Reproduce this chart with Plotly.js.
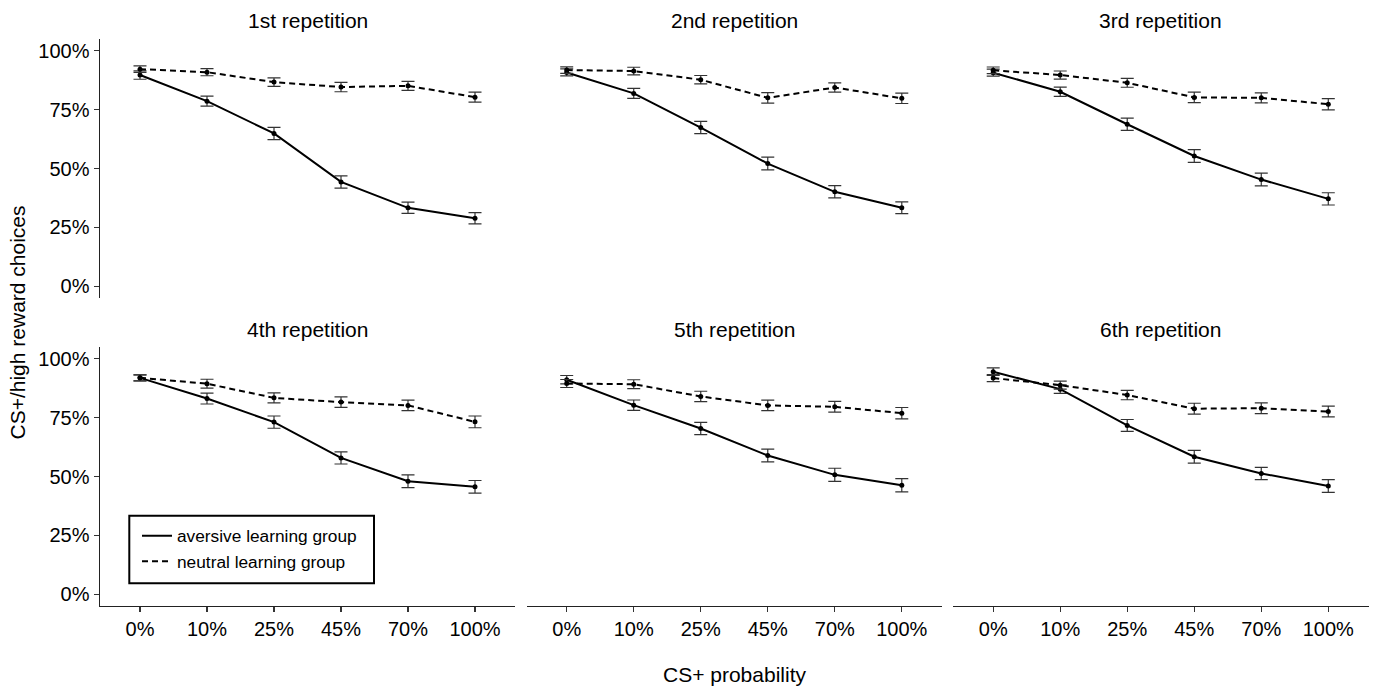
<!DOCTYPE html>
<html>
<head>
<meta charset="utf-8">
<script src="https://cdn.plot.ly/plotly-3.0.1.min.js"></script>
<style>html,body{margin:0;padding:0;background:#fff;}#chart{width:1375px;height:688px;}</style>
</head>
<body>
<div id="chart"></div>
<script>
// ---- data (percent of CS+/high reward choices) ----
const categories = ['0%', '10%', '25%', '45%', '70%', '100%'];
const panelTitles = ['1st repetition', '2nd repetition', '3rd repetition', '4th repetition', '5th repetition', '6th repetition'];
const yTickVals = [0, 25, 50, 75, 100];
const yTickText = ['0%', '25%', '50%', '75%', '100%'];

const aversiveRep1 = [89.7, 78.6, 64.9, 44.3, 33.3, 28.9];
const aversiveRep2 = [90.8, 81.9, 67.4, 52.1, 40.1, 33.3];
const aversiveRep3 = [90.7, 82.6, 68.8, 55.3, 45.3, 37.1];
const aversiveRep4 = [91.9, 83.1, 73.1, 57.9, 48.0, 45.6];
const aversiveRep5 = [91.1, 80.3, 70.4, 58.9, 50.7, 46.3];
const aversiveRep6 = [94.5, 87.1, 71.7, 58.4, 51.3, 46.0];

const aversiveSeRep1 = [1.8, 2.1, 2.6, 2.6, 2.4, 2.4];
const aversiveSeRep2 = [1.5, 2.1, 2.6, 2.7, 2.6, 2.5];
const aversiveSeRep3 = [1.5, 2.0, 2.6, 2.7, 2.7, 2.6];
const aversiveSeRep4 = [1.3, 2.3, 2.6, 2.6, 2.7, 2.7];
const aversiveSeRep5 = [1.8, 2.2, 2.6, 2.7, 2.8, 2.8];
const aversiveSeRep6 = [1.6, 1.8, 2.5, 2.7, 2.6, 2.7];

const neutralRep1 = [92.2, 90.9, 86.7, 84.6, 85.1, 80.3];
const neutralRep2 = [91.8, 91.4, 87.7, 80.0, 84.4, 79.8];
const neutralRep3 = [91.7, 89.7, 86.4, 80.2, 80.0, 77.3];
const neutralRep4 = [91.9, 89.4, 83.4, 81.6, 80.2, 73.2];
const neutralRep5 = [89.5, 89.2, 84.0, 80.2, 79.6, 76.9];
const neutralRep6 = [91.8, 88.8, 84.6, 78.8, 79.0, 77.6];

const neutralSeRep1 = [1.4, 1.5, 1.8, 2.0, 1.9, 2.1];
const neutralSeRep2 = [1.4, 1.6, 1.8, 2.2, 2.0, 2.2];
const neutralSeRep3 = [1.4, 1.7, 1.9, 2.2, 2.1, 2.4];
const neutralSeRep4 = [1.3, 1.9, 2.1, 2.2, 2.2, 2.5];
const neutralSeRep5 = [1.7, 1.9, 2.2, 2.2, 2.3, 2.4];
const neutralSeRep6 = [1.5, 1.7, 2.0, 2.3, 2.3, 2.3];

const groupNames = ['aversive learning group', 'neutral learning group'];

// ---- build ----
const aversive = [aversiveRep1, aversiveRep2, aversiveRep3, aversiveRep4, aversiveRep5, aversiveRep6];
const aversiveSe = [aversiveSeRep1, aversiveSeRep2, aversiveSeRep3, aversiveSeRep4, aversiveSeRep5, aversiveSeRep6];
const neutral = [neutralRep1, neutralRep2, neutralRep3, neutralRep4, neutralRep5, neutralRep6];
const neutralSe = [neutralSeRep1, neutralSeRep2, neutralSeRep3, neutralSeRep4, neutralSeRep5, neutralSeRep6];

const W = 1375, H = 688;
const colPx = [[99.8, 515.2], [526.5, 942.0], [953.0, 1368.5]];
const rowPx = [[39, 298], [347, 606]];
const FONT = 'Liberation Sans, Arial, sans-serif';

const traces = [];
const layout = {
  width: W, height: H,
  margin: {l: 0, r: 0, t: 0, b: 0},
  paper_bgcolor: '#fff', plot_bgcolor: '#fff',
  font: {family: FONT, size: 20, color: '#000'},
  showlegend: true,
  legend: {
    x: 137 / W, y: 1 - 518 / H, xanchor: 'left', yanchor: 'top',
    bgcolor: 'rgba(0,0,0,0)', borderwidth: 0,
    font: {family: FONT, size: 17.3, color: '#000'},
    itemwidth: 30, tracegroupgap: 0
  },
  annotations: [],
  shapes: []
};

const dashStyle = '6px,4px';

for (let p = 0; p < 6; p++) {
  const r = Math.floor(p / 3), c = p % 3;
  const sfx = p === 0 ? '' : String(p + 1);
  const xa = 'x' + sfx, ya = 'y' + sfx;
  const series = [
    {y: aversive[p], e: aversiveSe[p], dash: 'solid', name: groupNames[0]},
    {y: neutral[p], e: neutralSe[p], dash: dashStyle, name: groupNames[1]}
  ];
  series.forEach(s => {
    traces.push({
      type: 'scatter', mode: 'lines+markers',
      x: categories, y: s.y,
      xaxis: xa, yaxis: ya,
      name: s.name, showlegend: false,
      line: {color: '#000', width: 2, dash: s.dash},
      marker: {color: '#000', size: 5},
      error_y: {type: 'data', array: s.e, visible: true, color: '#333', thickness: 1.2, width: 6.5},
      hoverinfo: 'x+y'
    });
  });
  const xKey = 'xaxis' + sfx, yKey = 'yaxis' + sfx;
  layout[xKey] = {
    domain: [colPx[c][0] / W, colPx[c][1] / W],
    anchor: ya, type: 'category',
    categoryorder: 'array', categoryarray: categories,
    range: [-0.6, 5.6],
    showgrid: false, zeroline: false,
    showline: r === 1, linecolor: '#222', linewidth: 1.3,
    ticks: r === 1 ? 'outside' : '', ticklen: 5, tickwidth: 1.2, tickcolor: '#333',
    showticklabels: r === 1,
    tickfont: {family: FONT, size: 20, color: '#000'},
    fixedrange: true
  };
  layout[yKey] = {
    domain: [1 - rowPx[r][1] / H, 1 - rowPx[r][0] / H],
    anchor: xa,
    range: [-5, 105],
    tickmode: 'array', tickvals: yTickVals, ticktext: yTickText,
    showgrid: false, zeroline: false,
    showline: c === 0, linecolor: '#222', linewidth: 1.3,
    ticks: c === 0 ? 'outside' : '', ticklen: 5, tickwidth: 1.2, tickcolor: '#333',
    showticklabels: c === 0,
    tickfont: {family: FONT, size: 20, color: '#000'},
    fixedrange: true
  };
  layout.annotations.push({
    text: panelTitles[p], xref: 'paper', yref: 'paper',
    x: (colPx[c][0] + colPx[c][1]) / 2 / W,
    y: 1 - (r === 0 ? 21 : 329) / H,
    xanchor: 'center', yanchor: 'middle', showarrow: false,
    font: {family: FONT, size: 21, color: '#000'}
  });
}

// legend entries (line style keys only)
traces.push({type: 'scatter', mode: 'lines', x: [null], y: [null], name: groupNames[0],
  line: {color: '#000', width: 2, dash: 'solid'}, showlegend: true, hoverinfo: 'skip'});
traces.push({type: 'scatter', mode: 'lines', x: [null], y: [null], name: groupNames[1],
  line: {color: '#000', width: 2, dash: dashStyle}, showlegend: true, hoverinfo: 'skip'});

// legend frame
layout.shapes.push({type: 'rect', xref: 'paper', yref: 'paper',
  x0: 129.3 / W, x1: 374 / W, y0: 1 - 583.3 / H, y1: 1 - 515.7 / H,
  line: {color: '#000', width: 2}, fillcolor: 'rgba(0,0,0,0)'});

// shared axis titles
layout.annotations.push({
  text: 'CS+ probability', xref: 'paper', yref: 'paper',
  x: 734 / W, y: 1 - 674 / H, xanchor: 'center', yanchor: 'middle', showarrow: false,
  font: {family: FONT, size: 21, color: '#000'}
});
layout.annotations.push({
  text: 'CS+/high reward choices', xref: 'paper', yref: 'paper',
  x: 17 / W, y: 1 - 322.5 / H, xanchor: 'center', yanchor: 'middle', showarrow: false,
  textangle: -90,
  font: {family: FONT, size: 21, color: '#000'}
});

Plotly.newPlot('chart', traces, layout, {displayModeBar: false, staticPlot: true});
</script>
</body>
</html>
